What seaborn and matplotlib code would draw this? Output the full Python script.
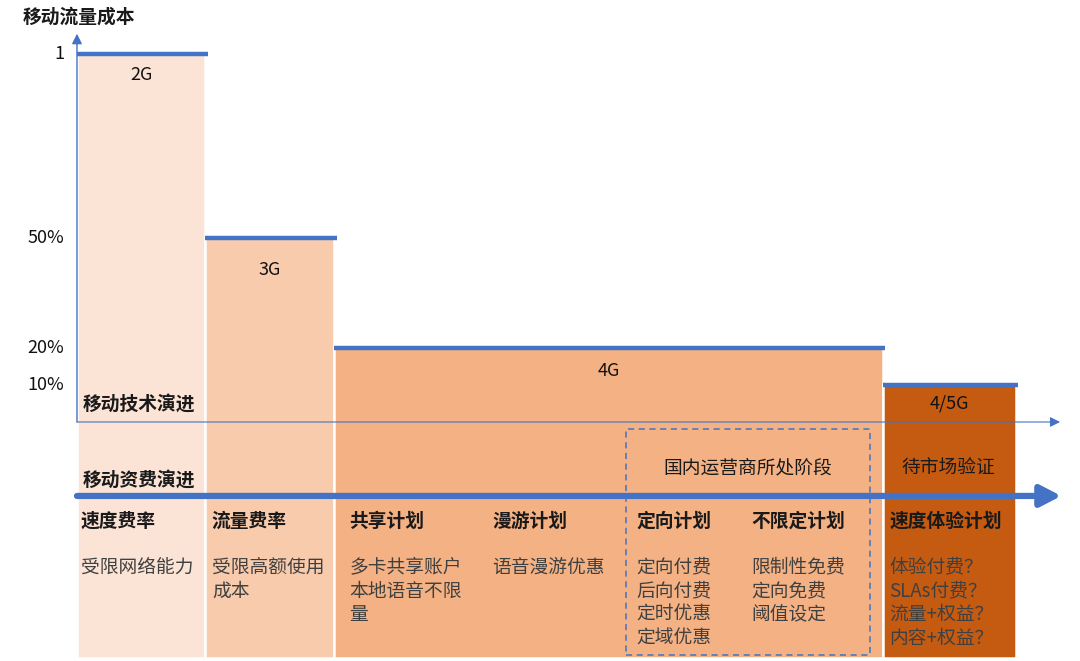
import matplotlib

matplotlib.use("Agg")
import matplotlib.pyplot as plt
import seaborn as sns
from matplotlib.patches import Rectangle

# 数据：各代移动技术的相对流量成本
generations = ["2G", "3G", "4G", "4/5G"]
cost = [1.0, 0.5, 0.2, 0.1]
col_width = [1.0, 1.0, 4.27, 1.035]
col_colors = ["#FBE4D6", "#F8CBAD", "#F4B183", "#C55A11"]

tick_values = [1.0, 0.5, 0.2, 0.1]
tick_labels = ["1", "50%", "20%", "10%"]

plan_names = ["速度费率", "流量费率", "共享计划", "漫游计划", "定向计划", "不限定计划", "速度体验计划"]
plan_details = [
    "受限网络能力",
    "受限高额使用\n成本",
    "多卡共享账户\n本地语音不限\n量",
    "语音漫游优惠",
    "定向付费\n后向付费\n定时优惠\n定域优惠",
    "限制性免费\n定向免费\n阈值设定",
    "体验付费？\nSLAs付费？\n流量+权益？\n内容+权益？",
]

BLUE = "#4472C4"
plan_x = [0.03, 1.05, 2.12, 3.23, 4.35, 5.25, 6.32]
label_y = [0.943, 0.413, 0.139, 0.049]
bottom = -0.64
fee_axis_y = -0.201

sns.set_theme(style="white")
plt.rcParams["font.family"] = ["Noto Sans CJK SC", "DejaVu Sans"]
plt.rcParams["axes.unicode_minus"] = False

fig = plt.figure(figsize=(10.8, 6.61), dpi=100)
ax = fig.add_axes([0, 0, 1, 1])
ax.set_xlim(-0.599, 7.805)
ax.set_ylim(-0.6495, 1.1467)
ax.axis("off")

lefts = [sum(col_width[:i]) for i in range(len(col_width))]
heights = [c - bottom for c in cost]
ax.bar(lefts, heights, width=col_width, bottom=bottom, align="edge",
       color=col_colors, edgecolor="white", linewidth=1.8, zorder=1)

# 每一代的成本水平线
for left, w, c in zip(lefts, col_width, cost):
    ax.hlines(c, left, left + w + 0.02, color=BLUE, lw=3.2, zorder=3)

for left, w, name, y in zip(lefts, col_width, generations, label_y):
    ax.text(left + w / 2, y, name, ha="center", va="center", fontsize=13,
            fontweight=500, color="#111111", zorder=4)

# 坐标轴
ax.annotate("", xy=(0, 1.055), xytext=(0, 0),
            arrowprops=dict(arrowstyle="-|>,head_length=0.6,head_width=0.3", lw=1,
                            color=BLUE, mutation_scale=10, shrinkA=0, shrinkB=0), zorder=3)
ax.annotate("", xy=(7.65, 0), xytext=(0, 0),
            arrowprops=dict(arrowstyle="-|>,head_length=0.6,head_width=0.3", lw=0.8,
                            color=BLUE, mutation_scale=10, shrinkA=0, shrinkB=0), zorder=3)
ax.annotate("", xy=(7.66, fee_axis_y), xytext=(0, fee_axis_y),
            arrowprops=dict(arrowstyle="-|>,head_length=0.62,head_width=0.32", lw=4.5,
                            color=BLUE, mutation_scale=20, shrinkA=0, shrinkB=0), zorder=3)

for v, lab in zip(tick_values, tick_labels):
    ax.text(-0.10, v, lab, ha="right", va="center", fontsize=13, fontweight=500,
            color="#111111")

ax.text(-0.42, 1.10, "移动流量成本", ha="left", va="center", fontsize=13.5,
        fontweight="bold", color="#1a1a1a")
ax.text(0.047, 0.049, "移动技术演进", ha="left", va="center", fontsize=13.5,
        fontweight="bold", color="#1a1a1a", zorder=4)
ax.text(0.047, -0.158, "移动资费演进", ha="left", va="center", fontsize=13.5,
        fontweight="bold", color="#1a1a1a", zorder=4)

# 国内运营商所处阶段虚线框
ax.add_patch(Rectangle((4.27, -0.633), 1.9, 0.614, fill=False, edgecolor=BLUE,
                       lw=1.1, linestyle=(0, (4, 3)), zorder=4))
ax.text(5.22, -0.125, "国内运营商所处阶段", ha="center", va="center", fontsize=13.5,
        fontweight=500, color="#1a1a1a", zorder=4)
ax.text(6.78, -0.125, "待市场验证", ha="center", va="center", fontsize=13.5,
        fontweight=500, color="#1a1a1a", zorder=4)

for x, name, detail in zip(plan_x, plan_names, plan_details):
    ax.text(x, -0.269, name, ha="left", va="center", fontsize=13.5,
            fontweight="bold", color="#1a1a1a", zorder=4)
    ax.text(x, -0.366, detail, ha="left", va="top", fontsize=13.5,
            color="#404040", linespacing=1.165, zorder=4)

fig.savefig("out.png", dpi=100)
